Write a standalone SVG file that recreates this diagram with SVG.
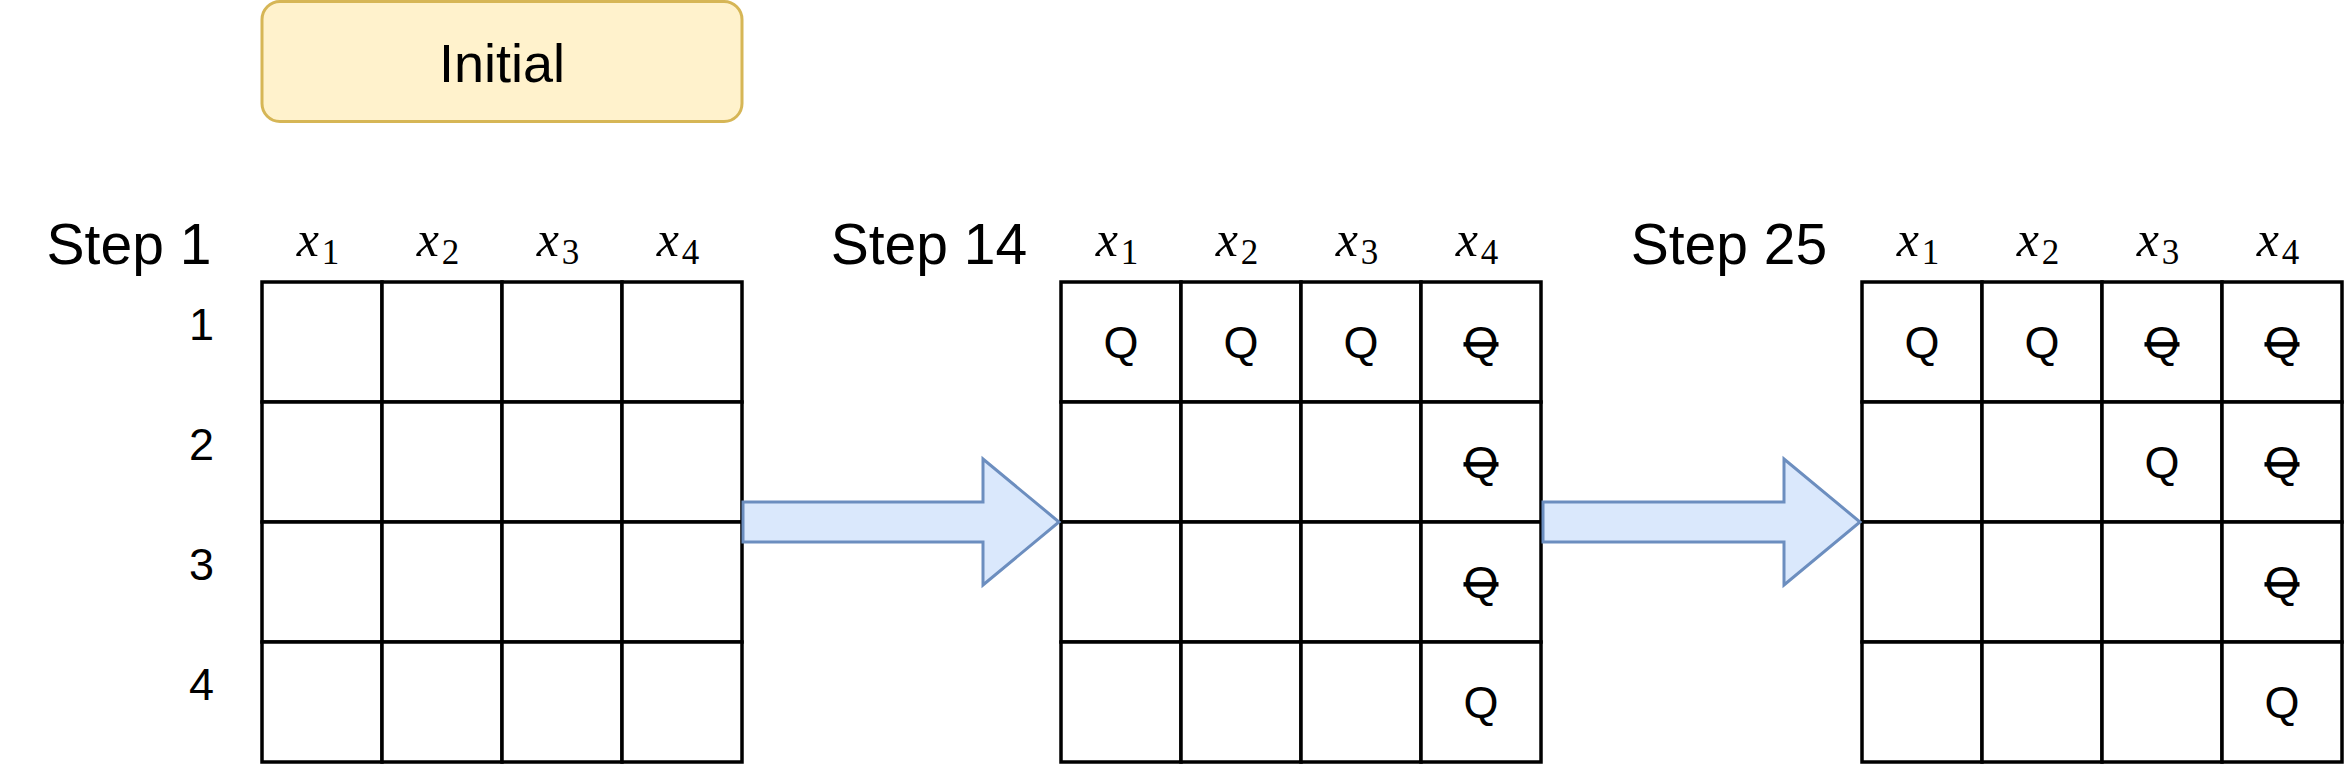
<svg xmlns="http://www.w3.org/2000/svg" width="2344" height="764" viewBox="0 0 2344 764">
<style>
.cell{fill:#ffffff;stroke:#000000;stroke-width:3.5}
.q{font-family:"Liberation Sans",Arial,sans-serif;font-size:45px;fill:#000;text-anchor:middle}
.qx{text-decoration:line-through}
.row{font-family:"Liberation Sans",Arial,sans-serif;font-size:45px;fill:#000;text-anchor:end}
.step{font-family:"Liberation Sans",Arial,sans-serif;font-size:57px;fill:#000;text-anchor:middle}
.var{font-family:"Liberation Serif","Times New Roman",serif;font-size:50px;fill:#000;text-anchor:middle}
.var .v{font-style:italic}
.var .s{font-size:35px}
.arrow{fill:#dae8fc;stroke:#6c8ebf;stroke-width:3;stroke-linejoin:miter}
.init{fill:#fff2cc;stroke:#d6b656;stroke-width:3}
.initt{font-family:"Liberation Sans",Arial,sans-serif;font-size:54px;fill:#000;text-anchor:middle}
</style>
<defs>
<g id="grid">
<rect class="cell" x="0" y="0" width="120" height="120"/>
<rect class="cell" x="120" y="0" width="120" height="120"/>
<rect class="cell" x="240" y="0" width="120" height="120"/>
<rect class="cell" x="360" y="0" width="120" height="120"/>
<rect class="cell" x="0" y="120" width="120" height="120"/>
<rect class="cell" x="120" y="120" width="120" height="120"/>
<rect class="cell" x="240" y="120" width="120" height="120"/>
<rect class="cell" x="360" y="120" width="120" height="120"/>
<rect class="cell" x="0" y="240" width="120" height="120"/>
<rect class="cell" x="120" y="240" width="120" height="120"/>
<rect class="cell" x="240" y="240" width="120" height="120"/>
<rect class="cell" x="360" y="240" width="120" height="120"/>
<rect class="cell" x="0" y="360" width="120" height="120"/>
<rect class="cell" x="120" y="360" width="120" height="120"/>
<rect class="cell" x="240" y="360" width="120" height="120"/>
<rect class="cell" x="360" y="360" width="120" height="120"/>
</g>
<g id="vars">
<text class="var" x="56" y="-26"><tspan class="v">x</tspan><tspan class="s" dx="3" dy="8">1</tspan></text>
<text class="var" x="176" y="-26"><tspan class="v">x</tspan><tspan class="s" dx="3" dy="8">2</tspan></text>
<text class="var" x="296" y="-26"><tspan class="v">x</tspan><tspan class="s" dx="3" dy="8">3</tspan></text>
<text class="var" x="416" y="-26"><tspan class="v">x</tspan><tspan class="s" dx="3" dy="8">4</tspan></text>
</g>
</defs>

<g id="initial">
<rect class="init" x="262" y="1.5" width="480" height="120" rx="18" ry="18"/>
<text class="initt" x="502" y="82">Initial</text>
</g>

<g id="rowlabels">
<text class="row" x="214" y="340">1</text>
<text class="row" x="214" y="460">2</text>
<text class="row" x="214" y="580">3</text>
<text class="row" x="214" y="700">4</text>
</g>

<g id="step1">
<text class="step" x="129" y="264">Step 1</text>
<use href="#vars" x="262" y="282"/>
<use href="#grid" x="262" y="282"/>
</g>

<g id="step14">
<text class="step" x="929" y="264">Step 14</text>
<use href="#vars" x="1061" y="282"/>
<use href="#grid" x="1061" y="282"/>
<text class="q" x="1121" y="358">Q</text>
<text class="q" x="1241" y="358">Q</text>
<text class="q" x="1361" y="358">Q</text>
<text class="q qx" x="1481" y="358">Q</text>
<text class="q qx" x="1481" y="478">Q</text>
<text class="q qx" x="1481" y="598">Q</text>
<text class="q" x="1481" y="718">Q</text>
</g>

<g id="step25">
<text class="step" x="1729" y="264">Step 25</text>
<use href="#vars" x="1862" y="282"/>
<use href="#grid" x="1862" y="282"/>
<text class="q" x="1922" y="358">Q</text>
<text class="q" x="2042" y="358">Q</text>
<text class="q qx" x="2162" y="358">Q</text>
<text class="q qx" x="2282" y="358">Q</text>
<text class="q" x="2162" y="478">Q</text>
<text class="q qx" x="2282" y="478">Q</text>
<text class="q qx" x="2282" y="598">Q</text>
<text class="q" x="2282" y="718">Q</text>
</g>

<g id="connectors">
<polygon class="arrow" points="743,502 983,502 983,459 1059,522 983,585 983,542 743,542"/>
<polygon class="arrow" points="1543,502 1784,502 1784,459 1860,522 1784,585 1784,542 1543,542"/>
</g>
</svg>
